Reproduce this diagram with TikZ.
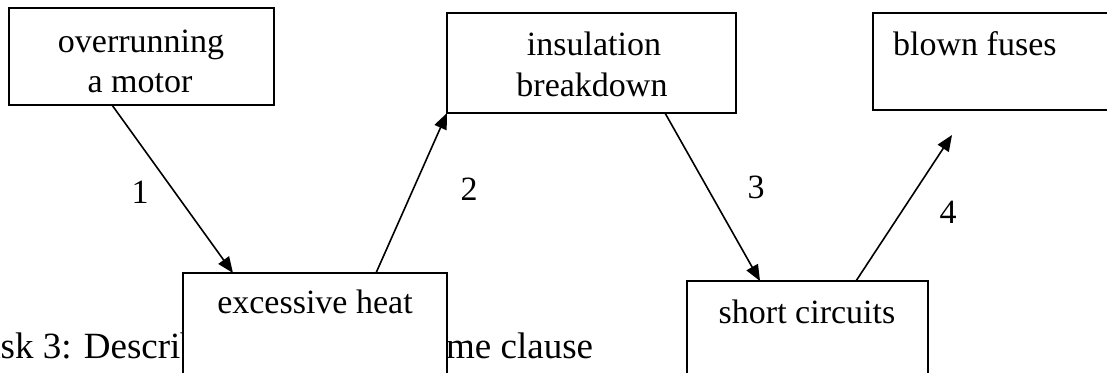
\documentclass[tikz,border=0pt]{standalone}
\usepackage{fontspec}
\setmainfont{Liberation Serif}
\usetikzlibrary{arrows.meta,calc}
\begin{document}
\begin{tikzpicture}[x=1pt,y=-1pt,
  box/.style={draw=black,line width=2pt,fill=white,inner sep=0pt,outer sep=0pt,anchor=north west},
  txt/.style={inner sep=0pt,anchor=base,font=\fontsize{34}{40}\selectfont},
  lbl/.style={inner sep=0pt,anchor=base,font=\fontsize{34}{40}\selectfont},
  bodytxt/.style={inner sep=0pt,anchor=base west,font=\fontsize{37}{44}\selectfont},
  conn/.style={line width=1.6pt,-{Triangle[length=16pt,width=13pt]}}]
\useasboundingbox (0,0) rectangle (1107,372);
% background sentence (partly hidden by boxes)
\node[bodytxt] (s1) at (-36,358) {Task 3: Describe};
\node[bodytxt] (s2) at (446,358) {me clause};
% boxes
\node[box,minimum width=265pt,minimum height=97pt] (b1) at (9,8) {};
\node[box,minimum width=289pt,minimum height=100pt] (b2) at (447,13) {};
\node[box,minimum width=260pt,minimum height=97pt] (b3) at (873,13) {};
\node[box,minimum width=264pt,minimum height=140pt] (b4) at (183,273) {};
\node[box,minimum width=241pt,minimum height=140pt] (b5) at (687,281) {};
% box texts
\node[txt] (t1a) at (141,52) {overrunning};
\node[txt] (t1b) at (140,92) {a motor};
\node[txt] (t2a) at (594,55) {insulation};
\node[txt] (t2b) at (592,96) {breakdown};
\node[txt,anchor=base west] (t3) at (893,55) {blown fuses};
\node[txt] (t4) at (315,313) {excessive heat};
\node[txt] (t5) at (807,323) {short circuits};
% connectors
\coordinate (e4) at ($(b3.south west)+(79,25)$);
\draw[conn] ($(b1.south west)+(103,0)$) -- ($(b4.north west)+(50,0)$);
\draw[conn] ($(b4.north west)+(193,0)$) -- (b2.south west);
\draw[conn] ($(b2.south west)+(218,0)$) -- ($(b5.north west)+(73,0)$);
\draw[conn] ($(b5.north west)+(169,0)$) -- (e4);
% labels
\node[lbl] (l1) at (140,203) {1};
\node[lbl] (l2) at (469,200) {2};
\node[lbl] (l3) at (756,198) {3};
\node[lbl] (l4) at (948,223) {4};
\end{tikzpicture}
\end{document}
